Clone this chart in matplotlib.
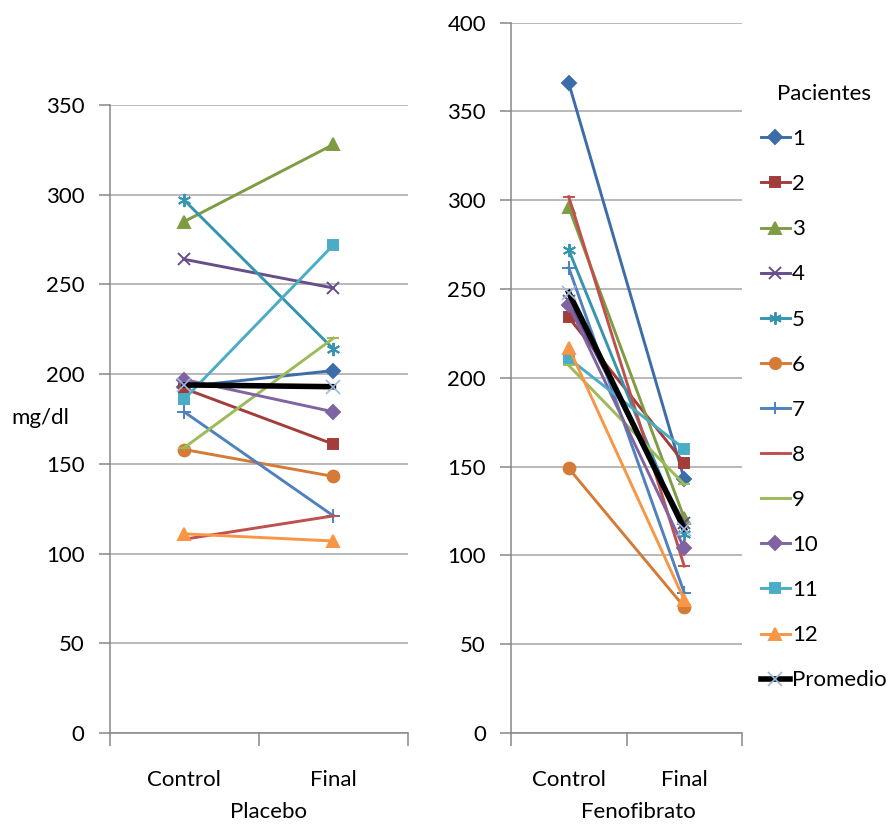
import matplotlib
matplotlib.use("Agg")
import matplotlib.pyplot as plt

plt.rcParams['font.family'] = ['Lato', 'DejaVu Sans']

# ---------------- data ----------------
categories = ["Control", "Final"]
groups = ["Placebo", "Fenofibrato"]
series_names = ["1", "2", "3", "4", "5", "6", "7", "8", "9", "10", "11", "12"]

placebo_control = [193, 192, 285, 264, 297, 158, 179, 108, 159, 197, 186, 111]
placebo_final   = [202, 161, 328, 248, 214, 143, 121, 121, 220, 179, 272, 107]
placebo_promedio = [194, 193]

feno_control = [366, 234, 296, 243, 272, 149, 262, 302, 207, 241, 211, 217]
feno_final   = [143, 152, 121, 118, 112, 71, 79, 94, 140, 104, 160, 75]
feno_promedio = [248, 115]

placebo_yticks = [0, 50, 100, 150, 200, 250, 300, 350]
feno_yticks = [0, 50, 100, 150, 200, 250, 300, 350, 400]

# ---------------- styles ----------------
colors = ['#3D6DA8', '#A33D3A', '#7F9C44', '#664E8A', '#3595AE', '#D47C37',
          '#4F81BD', '#C0504D', '#9BBB59', '#8064A2', '#4BACC6', '#F79646']
asterisk = (6, 2, 0)
markers = ['D', 's', '^', 'x', asterisk, 'o', '+', '_', '_', 'D', 's', '^']
msizes = [7.5, 7.5, 8.5, 8.5, 9.5, 8.5, 9.5, 8, 8, 7.5, 7.5, 8.5]

FS = 16
GRID = '#A6A6A6'
AXC = '#878787'

fig = plt.figure(figsize=(8.88, 8.27), dpi=100)
ax1 = fig.add_axes([109.5/888, 94/827, 298.5/888, 628/827])
ax2 = fig.add_axes([511/888, 94/827, 231/888, 710.3/827])

def draw(ax, ctrl, fin, prom, yticks):
    handles = []
    xs = [0, 1]
    for i in range(len(series_names)):
        h, = ax.plot(xs, [ctrl[i], fin[i]], color=colors[i], lw=2.1,
                     marker=markers[i], ms=msizes[i], mew=1.4,
                     mfc=colors[i], mec=colors[i], zorder=3 + i * 0.01,
                     label=series_names[i], clip_on=False)
        handles.append(h)
    h, = ax.plot(xs, prom, color='black', lw=4.0, marker='x', ms=10, mew=1.2,
                 mec='#9DB9E0', zorder=4, label='Promedio', clip_on=False)
    handles.append(h)
    ax.set_xlim(-0.5, 1.5)
    ax.set_ylim(yticks[0], yticks[-1])
    ax.set_yticks(yticks)
    ax.set_yticklabels([str(t) for t in yticks], fontsize=FS)
    ax.set_xticks([0, 1])
    ax.set_xticklabels(categories, fontsize=FS)
    ax.set_xticks([-0.5, 0.5, 1.5], minor=True)
    ax.tick_params(axis='x', which='major', length=0, pad=27)
    ax.tick_params(axis='x', which='minor', length=9, width=1.1, color=AXC, direction='out')
    ax.tick_params(axis='y', length=8, width=1.1, color=AXC, direction='out', pad=10)
    for s in ['top', 'right']:
        ax.spines[s].set_visible(False)
    for s in ['left', 'bottom']:
        ax.spines[s].set_color(AXC)
        ax.spines[s].set_linewidth(1.1)
    ax.grid(axis='y', color=GRID, lw=1.1)
    ax.set_axisbelow(True)
    return handles

draw(ax1, placebo_control, placebo_final, placebo_promedio, placebo_yticks)
handles = draw(ax2, feno_control, feno_final, feno_promedio, feno_yticks)

fig.text(268.5/888, 1 - 812/827, groups[0], fontsize=FS, ha='center', va='center')
fig.text(638/888, 1 - 812/827, groups[1], fontsize=FS, ha='center', va='center')
fig.text(40/888, 1 - 418/827, 'mg/dl', fontsize=FS, ha='center', va='center')

leg = fig.legend(handles=handles, loc='upper left',
                 bbox_to_anchor=(761/888, 1 - 84/827),
                 frameon=False, fontsize=FS, title='Pacientes', title_fontsize=FS,
                 handlelength=1.3, handletextpad=0.1, labelspacing=1.13,
                 borderaxespad=0, borderpad=0, markerscale=0.95)

fig.savefig('out.png', dpi=100)
